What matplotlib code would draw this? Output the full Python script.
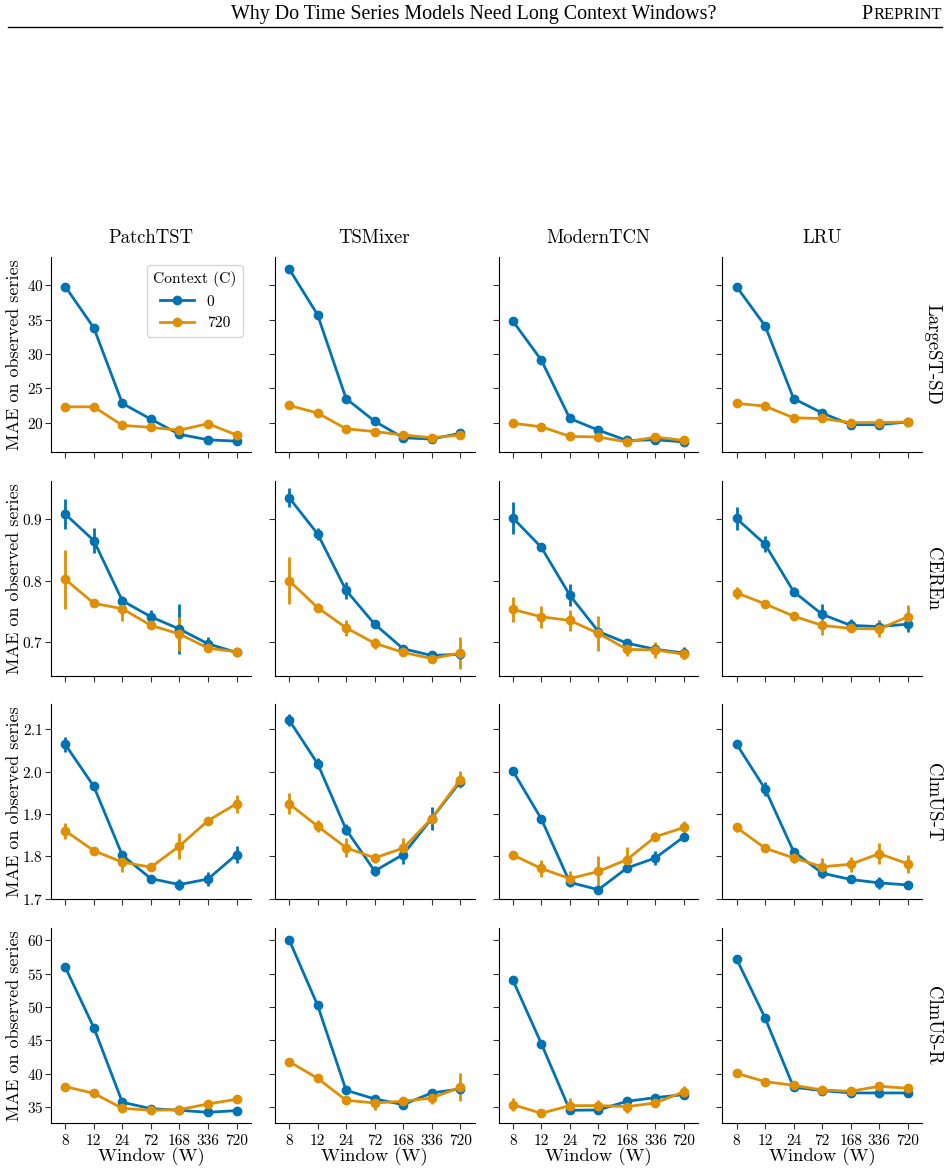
import numpy as np
import matplotlib
matplotlib.use("Agg")
import matplotlib.pyplot as plt
from matplotlib.lines import Line2D

# ---- data ----
windows = ["8", "12", "24", "72", "168", "336", "720"]
models = ["PatchTST", "TSMixer", "ModernTCN", "LRU"]
datasets = ["LargeST-SD", "CEREn", "ClmUS-T", "ClmUS-R"]
contexts = ["0", "720"]

# LargeST-SD
sd_ctx0 = [[39.8, 33.8, 22.8, 20.5, 18.3, 17.5, 17.3],
           [42.4, 35.7, 23.5, 20.2, 17.8, 17.6, 18.45],
           [34.8, 29.1, 20.6, 18.9, 17.4, 17.5, 17.2],
           [39.8, 34.1, 23.5, 21.4, 19.7, 19.7, 20.1]]
sd_ctx720 = [[22.3, 22.3, 19.6, 19.3, 18.9, 19.85, 18.2],
             [22.5, 21.4, 19.1, 18.7, 18.2, 17.8, 18.2],
             [19.9, 19.4, 18.0, 17.9, 17.2, 17.9, 17.4],
             [22.8, 22.4, 20.7, 20.6, 20.0, 20.0, 20.1]]
sd_err0 = [[0.3, 0.3, 0.3, 0.3, 0.3, 0.3, 0.3],
           [0.3, 0.3, 0.3, 0.3, 0.3, 0.3, 0.4],
           [0.2, 0.3, 0.3, 0.3, 0.2, 0.2, 0.2],
           [0.2, 0.3, 0.3, 0.3, 0.3, 0.3, 0.2]]
sd_err720 = [[0.3, 0.3, 0.2, 0.2, 0.3, 0.3, 0.3],
             [0.2, 0.2, 0.2, 0.2, 0.3, 0.2, 0.5],
             [0.2, 0.2, 0.2, 0.2, 0.2, 0.3, 0.3],
             [0.2, 0.2, 0.2, 0.2, 0.2, 0.2, 0.2]]

# CEREn
ce_ctx0 = [[0.908, 0.865, 0.767, 0.741, 0.721, 0.697, 0.683],
           [0.935, 0.876, 0.784, 0.729, 0.689, 0.678, 0.680],
           [0.902, 0.854, 0.776, 0.717, 0.698, 0.688, 0.682],
           [0.901, 0.859, 0.782, 0.745, 0.727, 0.725, 0.729]]
ce_ctx720 = [[0.802, 0.763, 0.754, 0.727, 0.713, 0.690, 0.684],
             [0.800, 0.756, 0.723, 0.698, 0.683, 0.673, 0.682],
             [0.753, 0.741, 0.735, 0.714, 0.688, 0.687, 0.680],
             [0.780, 0.762, 0.742, 0.727, 0.722, 0.721, 0.741]]
ce_err0 = [[0.024, 0.021, 0.005, 0.011, 0.040, 0.011, 0.003],
           [0.015, 0.010, 0.014, 0.004, 0.003, 0.003, 0.008],
           [0.026, 0.004, 0.018, 0.005, 0.004, 0.004, 0.010],
           [0.018, 0.013, 0.007, 0.017, 0.011, 0.011, 0.013]]
ce_err720 = [[0.048, 0.004, 0.020, 0.004, 0.027, 0.005, 0.003],
             [0.039, 0.008, 0.013, 0.009, 0.004, 0.004, 0.026],
             [0.020, 0.018, 0.017, 0.028, 0.011, 0.013, 0.004],
             [0.010, 0.004, 0.004, 0.015, 0.006, 0.013, 0.019]]

# ClmUS-T
ct_ctx0 = [[2.064, 1.965, 1.802, 1.747, 1.733, 1.746, 1.804],
           [2.122, 2.019, 1.863, 1.765, 1.804, 1.889, 1.976],
           [2.002, 1.888, 1.738, 1.721, 1.772, 1.796, 1.846],
           [2.065, 1.959, 1.811, 1.760, 1.745, 1.737, 1.732]]
ct_ctx720 = [[1.860, 1.813, 1.786, 1.774, 1.824, 1.884, 1.924],
             [1.924, 1.871, 1.820, 1.796, 1.819, 1.889, 1.981],
             [1.803, 1.771, 1.747, 1.764, 1.792, 1.846, 1.868],
             [1.868, 1.819, 1.796, 1.775, 1.781, 1.806, 1.782]]
ct_err0 = [[0.017, 0.005, 0.010, 0.004, 0.012, 0.016, 0.020],
           [0.015, 0.013, 0.013, 0.012, 0.023, 0.028, 0.013],
           [0.004, 0.004, 0.008, 0.004, 0.006, 0.017, 0.006],
           [0.004, 0.017, 0.005, 0.012, 0.004, 0.015, 0.004]]
ct_err720 = [[0.019, 0.006, 0.023, 0.005, 0.030, 0.009, 0.021],
             [0.025, 0.015, 0.023, 0.012, 0.025, 0.012, 0.021],
             [0.010, 0.020, 0.019, 0.036, 0.029, 0.010, 0.015],
             [0.011, 0.005, 0.011, 0.020, 0.018, 0.024, 0.021]]

# ClmUS-R
cr_ctx0 = [[55.95, 46.9, 35.7, 34.75, 34.5, 34.2, 34.45],
           [60.1, 50.25, 37.5, 36.2, 35.35, 37.1, 37.7],
           [54.05, 44.5, 34.5, 34.55, 35.85, 36.4, 36.85],
           [57.2, 48.35, 37.95, 37.45, 37.1, 37.1, 37.1]]
cr_ctx720 = [[38.05, 37.05, 34.8, 34.5, 34.6, 35.45, 36.15],
             [41.8, 39.3, 36.0, 35.6, 35.85, 36.35, 37.95],
             [35.35, 34.05, 35.2, 35.2, 35.05, 35.6, 37.3],
             [40.05, 38.8, 38.25, 37.55, 37.35, 38.1, 37.8]]
cr_err0 = [[0.2, 0.2, 0.2, 0.2, 0.2, 0.2, 0.2],
           [0.3, 0.3, 0.5, 0.3, 0.4, 0.5, 0.4],
           [0.2, 0.2, 0.3, 0.3, 0.3, 0.3, 0.3],
           [0.3, 0.3, 0.3, 0.3, 0.3, 0.3, 0.3]]
cr_err720 = [[0.5, 0.5, 0.3, 0.3, 0.3, 0.3, 0.3],
             [0.5, 0.3, 0.3, 1.0, 0.5, 0.9, 2.1],
             [1.0, 0.3, 1.1, 0.8, 0.9, 0.4, 0.8],
             [0.3, 0.3, 0.4, 0.3, 0.4, 0.6, 0.6]]

rows = [
    (sd_ctx0, sd_err0, sd_ctx720, sd_err720, (15.7, 44.1), [20, 25, 30, 35, 40]),
    (ce_ctx0, ce_err0, ce_ctx720, ce_err720, (0.645, 0.9625), [0.7, 0.8, 0.9]),
    (ct_ctx0, ct_err0, ct_ctx720, ct_err720, (1.698, 2.159), [1.7, 1.8, 1.9, 2.0, 2.1]),
    (cr_ctx0, cr_err0, cr_ctx720, cr_err720, (32.6, 61.85), [35, 40, 45, 50, 55, 60]),
]

colors = ["#0173B2", "#DE8F05"]

plt.rcParams["font.family"] = "serif"
plt.rcParams["font.serif"] = ["cmr10"]
plt.rcParams["axes.formatter.use_mathtext"] = True
plt.rcParams["mathtext.fontset"] = "cm"

fig, axes = plt.subplots(4, 4, figsize=(9.48, 11.7), dpi=100, sharex=True, sharey="row")
fig.subplots_adjust(left=0.0538, right=0.9726, top=0.7803, bottom=0.0402,
                    wspace=0.12, hspace=0.146)

x = np.arange(len(windows))
for r, (m0, e0, m1, e1, ylim, yticks) in enumerate(rows):
    for c in range(4):
        ax = axes[r, c]
        for vals, errs, col in [(m0, e0, colors[0]), (m1, e1, colors[1])]:
            ax.errorbar(x, vals[c], yerr=errs[c], fmt="-o", color=col, lw=2,
                        elinewidth=2, capsize=0, markersize=6)
        ax.set_ylim(*ylim)
        ax.set_yticks(yticks)
        ax.set_xlim(-0.5, 6.5)
        ax.spines["top"].set_visible(False)
        ax.spines["right"].set_visible(False)
        ax.tick_params(labelsize=11, length=4.5, color="#333333")
        ax.tick_params(axis="y", pad=1)
        if r == 0:
            ax.set_title(models[c], fontsize=13.5, pad=10)
        if c == 0:
            ax.set_ylabel("MAE on observed series", fontsize=13)
            ax.yaxis.set_label_coords(-0.145, 0.5)
        if r == 3:
            ax.set_xticks(x)
            ax.set_xticklabels(windows)
            ax.set_xlabel("Window (W)", fontsize=13.3, labelpad=0)
    axes[r, 3].annotate(datasets[r], xy=(1.008, 0.5), xycoords="axes fraction",
                        rotation=270, va="center", ha="left", fontsize=13.5)

handles = [Line2D([], [], color=col, lw=2, marker="o", markersize=6) for col in colors]
leg = axes[0, 0].legend(handles, contexts, title="Context (C)", loc="upper right",
                        fontsize=11.2, title_fontsize=11.2, handlelength=2.2)
leg.get_frame().set_edgecolor("#cccccc")

# page header
fig.text(0.5, 1 - 19 / 1170, "Why Do Time Series Models Need Long Context Windows?",
         ha="center", va="baseline", fontsize=14.4, family="Liberation Serif")
fig.text(861 / 948, 1 - 19 / 1170, "P", ha="left", va="baseline", fontsize=14.4,
         family="Liberation Serif")
fig.text(874 / 948, 1 - 19 / 1170, "REPRINT", ha="left", va="baseline", fontsize=11.8,
         family="Liberation Serif")
fig.add_artist(Line2D([8 / 948, 942 / 948], [1 - 27 / 1170] * 2, color="black", lw=1))

fig.savefig("out.png", dpi=100)
